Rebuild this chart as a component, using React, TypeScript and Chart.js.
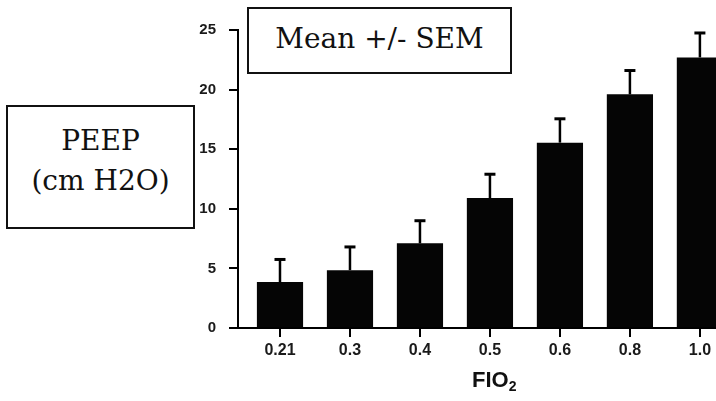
import React, { useEffect, useRef } from "react";
import { Chart, registerables } from "chart.js";

Chart.register(...registerables);

const categories = ["0.21", "0.3", "0.4", "0.5", "0.6", "0.8", "1.0"];
const meanPeep = [3.85, 4.85, 7.1, 10.9, 15.55, 19.6, 22.7];
const semPeep = [1.9, 1.95, 1.9, 2.0, 2.0, 2.0, 2.05];
const yTicks = [0, 5, 10, 15, 20, 25];

const errorBarPlugin = {
  id: "errorBars",
  afterDatasetsDraw(chart: any) {
    const { ctx, scales } = chart;
    const xs = scales.x;
    const ys = scales.y;
    ctx.save();
    ctx.strokeStyle = "#000";
    meanPeep.forEach((m, i) => {
      const x = xs.getPixelForValue(i);
      const yb = ys.getPixelForValue(m);
      const yt = ys.getPixelForValue(m + semPeep[i]);
      ctx.lineWidth = 2.5;
      ctx.beginPath();
      ctx.moveTo(x, yb);
      ctx.lineTo(x, yt);
      ctx.stroke();
      ctx.lineWidth = 3;
      ctx.beginPath();
      ctx.moveTo(x - 5.5, yt);
      ctx.lineTo(x + 5.5, yt);
      ctx.stroke();
    });
    ctx.restore();
  },
};

export default function App() {
  const ref = useRef<HTMLCanvasElement | null>(null);
  useEffect(() => {
    if (!ref.current) return;
    const chart = new Chart(ref.current, {
      type: "bar",
      data: {
        datasets: [
          {
            data: meanPeep.map((v, i) => ({ x: i, y: v })),
            backgroundColor: "#050505",
            borderWidth: 0,
            categoryPercentage: 1,
            barPercentage: 0.66,
          },
        ],
      },
      options: {
        animation: false,
        responsive: false,
        layout: { padding: { top: 30, right: 0, left: 0, bottom: 0 } },
        plugins: { legend: { display: false }, tooltip: { enabled: false } },
        scales: {
          x: {
            type: "linear",
            offset: false,
            min: -0.6,
            max: 6.23,
            afterBuildTicks: (scale: any) => {
              scale.ticks = categories.map((_, i) => ({ value: i }));
            },
            afterFit: (scale: any) => {
              scale.height = 73;
              scale.paddingLeft = 0;
              scale.paddingRight = 0;
            },
            ticks: {
              callback: (v: any) => categories[v as number] ?? "",
              color: "#1a1a1a",
              font: { family: "Liberation Sans, Arial", size: 16, weight: "bold" },
              padding: 4,
              maxRotation: 0,
              autoSkip: false,
            },
            grid: {
              offset: false,
              drawOnChartArea: false,
              drawTicks: true,
              tickLength: 9,
              color: "#000",
              lineWidth: 2,
            },
            border: { display: true, color: "#000", width: 2 },
          },
          y: {
            min: 0,
            max: 25,
            afterBuildTicks: (scale: any) => {
              scale.ticks = yTicks.map((v) => ({ value: v }));
            },
            afterFit: (scale: any) => {
              scale.width = 238;
            },
            ticks: {
              color: "#1a1a1a",
              font: { family: "Liberation Sans, Arial", size: 15, weight: "bold" },
              padding: 13,
            },
            grid: {
              drawOnChartArea: false,
              drawTicks: true,
              tickLength: 9,
              color: "#000",
              lineWidth: 2,
            },
            border: { display: true, color: "#000", width: 2 },
          },
        },
      },
      plugins: [errorBarPlugin],
    });
    return () => chart.destroy();
  }, []);

  const serif = "'DejaVu Serif', 'Liberation Serif', serif";
  return (
    <div style={{ position: "absolute", left: 0, top: 0, width: 716, height: 401, background: "#fff", overflow: "hidden" }}>
      <canvas ref={ref} width={716} height={401} style={{ position: "absolute", left: 0, top: 0 }} />
      <div
        style={{
          position: "absolute",
          left: 247,
          top: 7,
          width: 261,
          height: 63,
          border: "2px solid #111",
          background: "#fff",
          fontFamily: serif,
          fontSize: 28,
          lineHeight: "60px",
          boxSizing: "content-box",
          color: "#111",
          textAlign: "center",
          whiteSpace: "nowrap",
        }}
      >
        Mean +/- SEM
      </div>
      <div
        style={{
          position: "absolute",
          left: 6,
          top: 105,
          width: 185,
          height: 120,
          border: "2px solid #111",
          background: "#fff",
          fontFamily: serif,
          fontSize: 28,
          lineHeight: "40px",
          color: "#111",
          textAlign: "center",
          whiteSpace: "nowrap",
          boxSizing: "content-box",
        }}
      >
        <div style={{ marginTop: 14 }}>PEEP</div>
        <div>(cm H2O)</div>
      </div>
      <div
        style={{
          position: "absolute",
          left: 472,
          top: 367,
          fontFamily: "'Liberation Sans', Arial, sans-serif",
          fontWeight: "bold",
          fontSize: 22,
          lineHeight: "26px",
          color: "#111",
          whiteSpace: "nowrap",
        }}
      >
        FIO<sub style={{ fontSize: 14, verticalAlign: "-4px", lineHeight: 0 }}>2</sub>
      </div>
    </div>
  );
}
